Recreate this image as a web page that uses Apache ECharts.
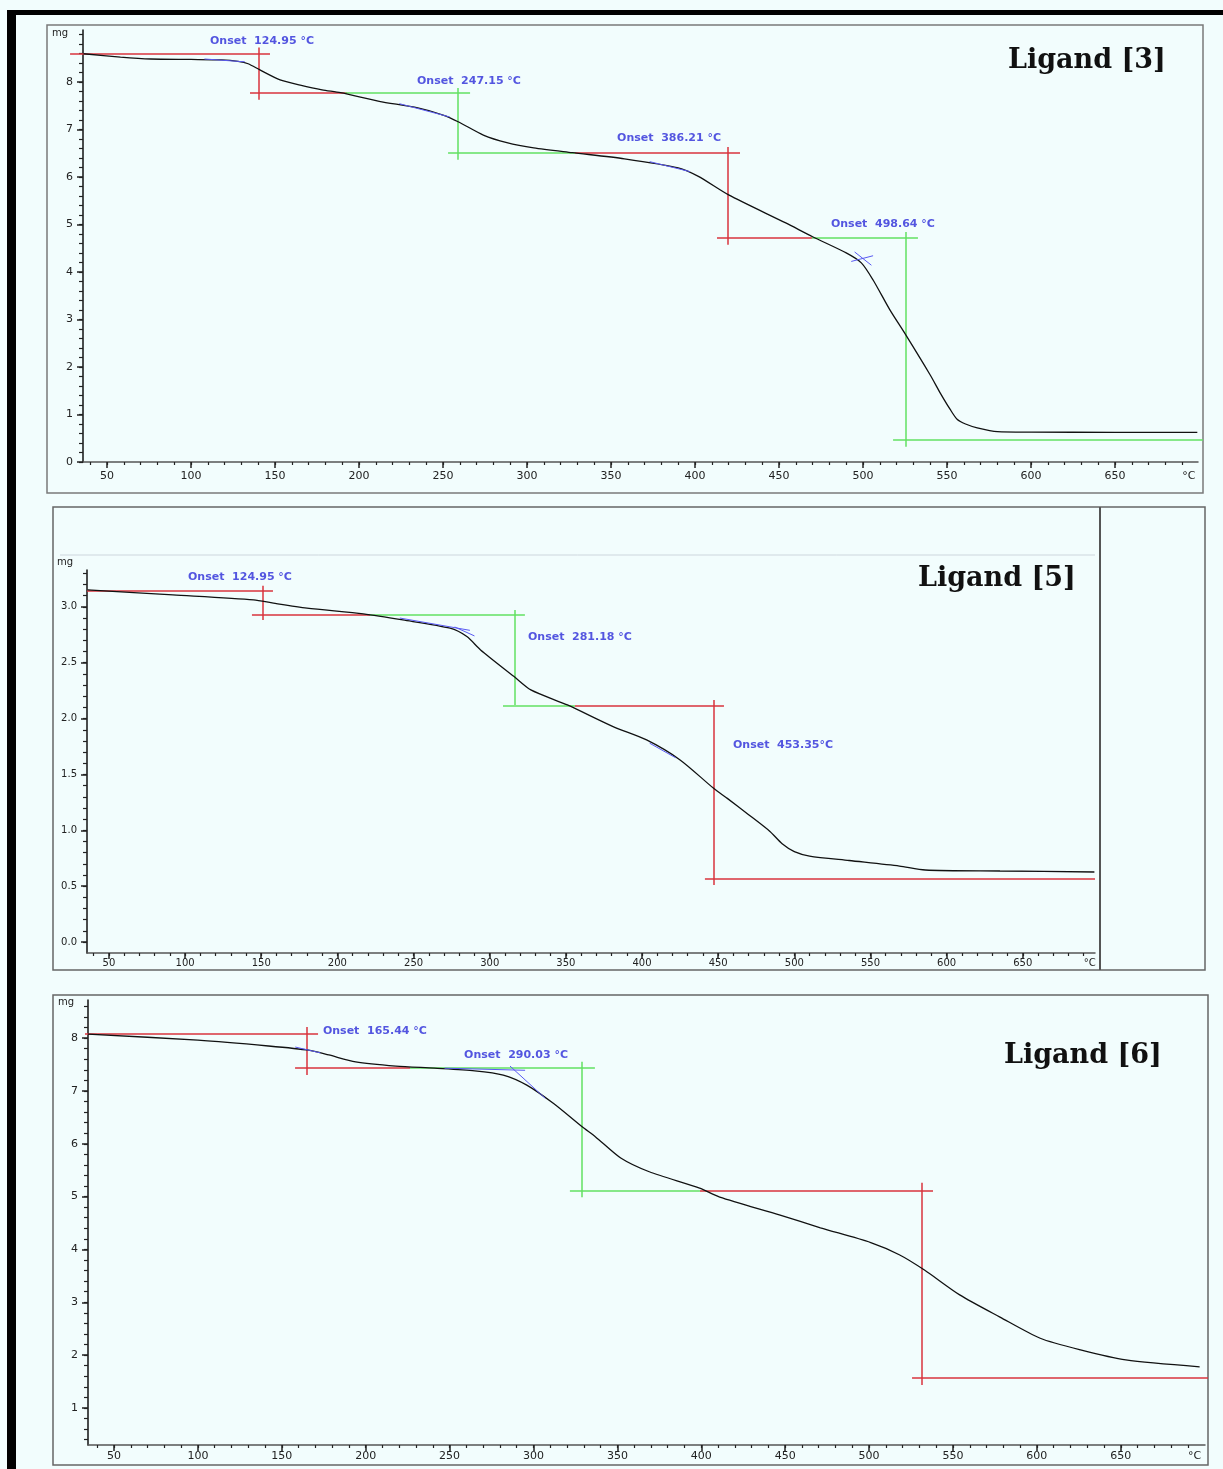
<!DOCTYPE html>
<html>
<head>
<meta charset="utf-8">
<title>TGA curves - Ligand 3, 5, 6</title>
<script src="https://cdn.jsdelivr.net/npm/echarts@6/dist/echarts.min.js"></script>
<style>
  html, body { margin: 0; padding: 0; background: #f2fdfd; }
  #chart { width: 1223px; height: 1469px; }
</style>
</head>
<body>
<div id="chart"></div>
<script>
// mass (mg) against temperature (°C)
const temp3 = [36, 58, 76, 100, 118, 128, 134, 141, 153, 165, 178, 189, 212, 235, 250, 259, 274, 288, 304, 327, 358, 390, 402, 420, 454, 470, 490, 499, 506, 516, 525, 540, 546, 552, 556, 561, 568, 580, 600, 650, 699];
const mass3 = [8.59, 8.52, 8.48, 8.47, 8.46, 8.43, 8.38, 8.25, 8.04, 7.93, 7.83, 7.77, 7.59, 7.45, 7.30, 7.16, 6.88, 6.72, 6.61, 6.51, 6.38, 6.19, 6.01, 5.62, 5.03, 4.74, 4.40, 4.19, 3.83, 3.20, 2.70, 1.83, 1.45, 1.10, 0.90, 0.80, 0.72, 0.64, 0.63, 0.625, 0.625];

const temp5 = [36, 92, 145, 158, 180, 217, 243, 274, 285, 294, 316, 327, 351, 381, 403, 425, 447, 456, 470, 484, 492, 500, 510, 536, 569, 586, 635, 697];
const mass5 = [3.152, 3.107, 3.063, 3.033, 2.988, 2.937, 2.883, 2.809, 2.734, 2.615, 2.376, 2.257, 2.122, 1.928, 1.809, 1.63, 1.376, 1.286, 1.14, 0.99, 0.88, 0.81, 0.77, 0.73, 0.68, 0.645, 0.636, 0.627];

const temp6 = [34.5, 100, 142, 166, 178, 194, 218, 241, 265, 282, 296, 312, 329, 337, 352, 369, 399, 411, 447, 471, 501, 518, 533, 554, 578, 602, 626, 653, 697];
const mass6 = [8.075, 7.96, 7.85, 7.77, 7.68, 7.55, 7.47, 7.43, 7.38, 7.30, 7.11, 6.76, 6.32, 6.13, 5.73, 5.47, 5.16, 4.99, 4.65, 4.41, 4.13, 3.90, 3.61, 3.14, 2.72, 2.32, 2.10, 1.91, 1.78];

// tick labels
const xTickLabels = [50, 100, 150, 200, 250, 300, 350, 400, 450, 500, 550, 600, 650];
const yTickLabels3 = [0, 1, 2, 3, 4, 5, 6, 7, 8];
const yTickLabels5 = [0, 0.5, 1.0, 1.5, 2.0, 2.5, 3.0];
const yTickLabels6 = [1, 2, 3, 4, 5, 6, 7, 8];

// onset construction lines [T1, m1, T2, m2]
const red3 = [[28, 8.59, 147, 8.59], [140.5, 8.72, 140.5, 7.62], [135.1, 7.77, 192.9, 7.77],
  [328.6, 6.51, 426.8, 6.51], [419.6, 6.63, 419.6, 4.57], [413.1, 4.72, 469.6, 4.72]];
const green3 = [[191.7, 7.77, 266.1, 7.77], [258.9, 7.87, 258.9, 6.36], [253.0, 6.51, 328.6, 6.51],
  [469.6, 4.72, 532.7, 4.72], [525.6, 4.84, 525.6, 0.32], [517.9, 0.46, 702.4, 0.46]];
const tangent3 = [[108, 8.48, 132, 8.42], [224, 7.54, 254, 7.26], [373, 6.32, 397, 6.11], [495, 4.42, 505, 4.14], [493, 4.22, 506, 4.34]];
const onset3 = [[111.3, 8.86, 'Onset  124.95 °C'], [234.5, 8.02, 'Onset  247.15 °C'],
  [353.6, 6.82, 'Onset  386.21 °C'], [480.9, 5.01, 'Onset  498.64 °C']];

const red5 = [[35.6, 3.143, 157.7, 3.143], [151.1, 3.188, 151.1, 2.883], [143.9, 2.928, 221.4, 2.928],
  [356.0, 2.113, 453.8, 2.113], [447.2, 2.167, 447.2, 0.51], [441.3, 0.564, 697.4, 0.564]];
const green5 = [[221.4, 2.928, 323.1, 2.928], [316.6, 2.973, 316.6, 2.122], [308.7, 2.113, 356.0, 2.113]];
const tangent5 = [[241, 2.90, 287, 2.79], [277, 2.82, 290, 2.74], [405, 1.78, 422, 1.65]];
const onset5 = [[101.9, 3.268, 'Onset  124.95 °C'], [325.1, 2.731, 'Onset  281.18 °C'], [459.7, 1.764, 'Onset  453.35°C']];

const red6 = [[32.7, 8.075, 171.6, 8.075], [165.0, 8.21, 165.0, 7.30], [157.9, 7.43, 226.4, 7.43],
  [399.2, 5.12, 538.1, 5.12], [531.5, 5.26, 531.5, 1.435], [525.6, 1.57, 702, 1.57]];
const green6 = [[226.4, 7.43, 336.6, 7.43], [328.9, 7.55, 328.9, 4.99], [321.7, 5.12, 399.2, 5.12]];
const tangent6 = [[158, 7.83, 173, 7.72], [247, 7.43, 295, 7.39], [286, 7.47, 307, 6.86]];
const onset6 = [[174.5, 8.13, 'Onset  165.44 °C'], [258.6, 7.68, 'Onset  290.03 °C']];

(()=>{
  const chart = echarts.init(document.getElementById('chart'));
  const FONT = '"DejaVu Sans", sans-serif';

  const range = (a, b, step)=>{
    const out = [];
    for(let v = a; v <= b + 1e-9; v += step) out.push(Math.round(v * 100) / 100);
    return out;
  };

  // layout of each thermogram frame
  const panels = [
    {
      title: 'Ligand [3]', titlePos: [1008, 61],
      temp: temp3, mass: mass3, red: red3, green: green3, tangent: tangent3, onset: onset3,
      grid: {left: 83, right: 25, top: 30, bottom: 1007},
      xMin: 35.7, xMax: 699.4, yMin: 0, yMax: 9.09,
      yLabels: yTickLabels3, yMinor: range(0, 9, 0.2), yFmt: (v)=>String(v),
      fontSize: 11, xMargin: 9, unitPos: [52, 33]
    },
    {
      title: 'Ligand [5]', titlePos: [918, 579],
      temp: temp5, mass: mass5, red: red5, green: green5, tangent: tangent5, onset: onset5,
      grid: {left: 87, right: 128, top: 570, bottom: 516},
      xMin: 35.6, xMax: 697.4, yMin: -0.098, yMax: 3.33,
      yLabels: yTickLabels5, yMinor: range(0, 3.3, 0.1), yFmt: (v)=>v.toFixed(1),
      fontSize: 10, xMargin: 5, unitPos: [57, 562]
    },
    {
      title: 'Ligand [6]', titlePos: [1004, 1056],
      temp: temp6, mass: mass6, red: red6, green: green6, tangent: tangent6, onset: onset6,
      grid: {left: 88, right: 18, top: 1000, bottom: 24},
      xMin: 34.5, xMax: 700.2, yMin: 0.30, yMax: 8.72,
      yLabels: yTickLabels6, yMinor: range(0.4, 8.6, 0.2), yFmt: (v)=>String(v),
      fontSize: 11, xMargin: 6, unitPos: [58, 1002]
    }
  ];

  const xMinor = range(40, 690, 10);
  const grids = [], xAxes = [], yAxes = [], series = [], graphics = [];

  panels.forEach((p, i)=>{
    grids.push(Object.assign({outerBoundsMode: 'none', containLabel: false}, p.grid));

    xAxes.push({
      type: 'value', gridIndex: i, min: p.xMin, max: p.xMax, position: 'bottom',
      axisLine: {show: true, onZero: false, lineStyle: {color: '#555', width: 1.5}},
      axisTick: {show: true, customValues: xTickLabels, length: 6, lineStyle: {color: '#222', width: 1.5}},
      axisLabel: {
        customValues: [...xTickLabels, 694],
        formatter: (v)=> v > 680 ? '°C' : String(v),
        color: '#222', fontSize: p.fontSize, fontFamily: FONT, margin: p.xMargin
      },
      splitLine: {show: false}
    });
    xAxes.push({
      type: 'value', gridIndex: i, min: p.xMin, max: p.xMax, position: 'bottom',
      axisLine: {show: false, onZero: false},
      axisTick: {show: true, customValues: xMinor, length: 3, lineStyle: {color: '#222', width: 1.2}},
      axisLabel: {show: false},
      splitLine: {show: false}
    });

    yAxes.push({
      type: 'value', gridIndex: i, min: p.yMin, max: p.yMax, position: 'left',
      axisLine: {show: true, onZero: false, lineStyle: {color: '#111', width: 1.5}},
      axisTick: {show: true, customValues: p.yLabels, length: 6, lineStyle: {color: '#222', width: 1.5}},
      axisLabel: {customValues: p.yLabels, formatter: p.yFmt, color: '#222', fontSize: p.fontSize, fontFamily: FONT, margin: 10},
      splitLine: {show: false}
    });
    yAxes.push({
      type: 'value', gridIndex: i, min: p.yMin, max: p.yMax, position: 'left',
      axisLine: {show: false, onZero: false},
      axisTick: {show: true, customValues: p.yMinor, length: 4, lineStyle: {color: '#222', width: 1.2}},
      axisLabel: {show: false},
      splitLine: {show: false}
    });

    const ax = {xAxisIndex: 2 * i, yAxisIndex: 2 * i};
    const segs = (list)=> list.map((s)=>({coords: [[s[0], s[1]], [s[2], s[3]]]}));

    series.push(Object.assign({
      type: 'lines', coordinateSystem: 'cartesian2d', clip: false, silent: true, z: 3,
      lineStyle: {color: '#d8333d', width: 1.5, opacity: 1}, data: segs(p.red)
    }, ax));
    series.push(Object.assign({
      type: 'lines', coordinateSystem: 'cartesian2d', clip: false, silent: true, z: 3,
      lineStyle: {color: '#62e062', width: 1.5, opacity: 1}, data: segs(p.green)
    }, ax));
    series.push(Object.assign({
      type: 'line', data: p.temp.map((t, k)=>[t, p.mass[k]]),
      showSymbol: false, smooth: 0.25, silent: true, z: 4,
      lineStyle: {color: '#111', width: 1.3}
    }, ax));
    series.push(Object.assign({
      type: 'lines', coordinateSystem: 'cartesian2d', clip: false, silent: true, z: 5,
      lineStyle: {color: '#5a5af2', width: 1, opacity: 1}, data: segs(p.tangent)
    }, ax));
    series.push(Object.assign({
      type: 'scatter', symbolSize: 0, silent: true, z: 6,
      data: p.onset,
      label: {
        show: true, position: 'right', distance: 0,
        formatter: (e)=>e.data[2],
        color: '#2a2ad8', fontSize: 11, fontWeight: 'bold', fontFamily: FONT
      }
    }, ax));

    graphics.push({
      type: 'text', x: p.titlePos[0], y: p.titlePos[1], z: 10,
      style: {text: p.title, font: 'bold 27px "DejaVu Serif", serif', fill: '#111',
        textAlign: 'left', textVerticalAlign: 'middle', align: 'left', verticalAlign: 'middle'}
    });
    graphics.push({
      type: 'text', x: p.unitPos[0], y: p.unitPos[1], z: 10,
      style: {text: 'mg', font: '10px ' + FONT, fill: '#222',
        textAlign: 'left', textVerticalAlign: 'middle', align: 'left', verticalAlign: 'middle'}
    });
  });

  // frames and page border
  const frame = (x, y, w, h, c)=>({type: 'rect', z: 1, shape: {x, y, width: w, height: h},
    style: {fill: 'none', stroke: c || '#7a7a7a', lineWidth: 1.5}});
  const line = (x1, y1, x2, y2, c, w)=>({type: 'line', z: 1, shape: {x1, y1, x2, y2},
    style: {stroke: c, lineWidth: w || 1.5}});

  graphics.push(frame(47, 25, 1156, 468));
  graphics.push(frame(53, 507, 1152, 463, '#666'));
  graphics.push(line(1100, 507, 1100, 970, '#555', 2));
  graphics.push(line(60, 555, 1095, 555, '#cdd6dd', 1));
  graphics.push(frame(53, 995, 1155, 470, '#666'));
  graphics.push({type: 'rect', z: 1, shape: {x: 7, y: 10, width: 9, height: 1459}, style: {fill: '#000'}});
  graphics.push({type: 'rect', z: 1, shape: {x: 7, y: 10, width: 1216, height: 5}, style: {fill: '#000'}});

  chart.setOption({
    backgroundColor: '#f2fdfd',
    animation: false,
    grid: grids,
    xAxis: xAxes,
    yAxis: yAxes,
    series,
    graphic: graphics
  });
})();
</script>
</body>
</html>
